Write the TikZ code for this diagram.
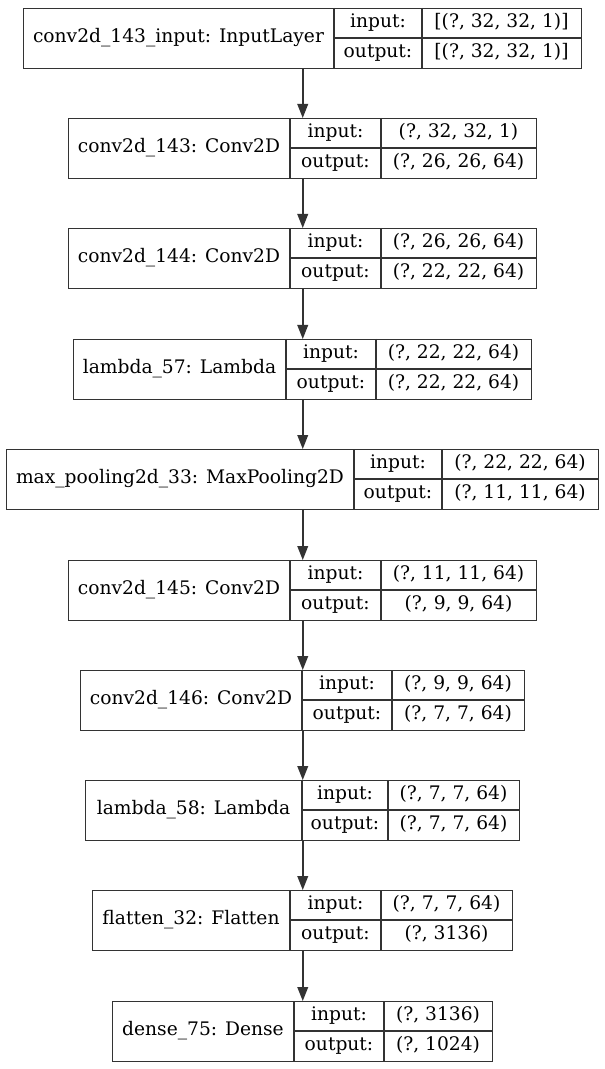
\documentclass[tikz,border=0pt]{standalone}
\usepackage{fontspec}
\setmainfont{DejaVu Serif}
\usetikzlibrary{arrows.meta}
\tikzset{
  frame/.style={draw=black!80, line width=1.1pt, inner sep=0pt, anchor=north west, minimum height=45pt},
  sep/.style={draw=black!80, line width=1.1pt},
  txt/.style={inner sep=0pt, anchor=base, text=black, font=\fontsize{14pt}{16pt}\selectfont},
  flow/.style={draw=black!80, line width=1.2pt, -{Triangle[length=10.5pt,width=8pt]}}
}
\newcommand\layer[9]{%
  \node[frame, minimum width={(#5-#2)*0.75pt}] (#1) at (#2,#6) {};
  \draw[sep] (#3,#6) -- (#3,#6+60);
  \draw[sep] (#4,#6) -- (#4,#6+60);
  \draw[sep] (#3,#6+30) -- (#5,#6+30);
  \node[txt] (#1-t) at ({(#2+#3)/2},#6+34.5) {#7};
  \node[txt] (#1-il) at ({(#3+#4)/2},#6+19.5) {input:};
  \node[txt] (#1-ol) at ({(#3+#4)/2},#6+49.5) {output:};
  \node[txt] (#1-iv) at ({(#4+#5)/2},#6+19.5) {#8};
  \node[txt] (#1-ov) at ({(#4+#5)/2},#6+49.5) {#9};
}
\begin{document}
\begin{tikzpicture}[x=0.75pt,y=-0.75pt]
\useasboundingbox (0,0) rectangle (604,1069);
\layer{l1}{23}{334}{422}{581}{8}{conv2d\_143\_input: InputLayer}{[(?, 32, 32, 1)]}{[(?, 32, 32, 1)]}
\layer{l2}{68}{290}{381}{536}{118}{conv2d\_143: Conv2D}{(?, 32, 32, 1)}{(?, 26, 26, 64)}
\layer{l3}{68}{290}{381}{536}{228}{conv2d\_144: Conv2D}{(?, 26, 26, 64)}{(?, 22, 22, 64)}
\layer{l4}{73}{286}{376}{531}{339}{lambda\_57: Lambda}{(?, 22, 22, 64)}{(?, 22, 22, 64)}
\layer{l5}{6}{354}{442}{598}{449}{max\_pooling2d\_33: MaxPooling2D}{(?, 22, 22, 64)}{(?, 11, 11, 64)}
\layer{l6}{68}{290}{381}{536}{560}{conv2d\_145: Conv2D}{(?, 11, 11, 64)}{(?, 9, 9, 64)}
\layer{l7}{80}{302}{392}{524}{670}{conv2d\_146: Conv2D}{(?, 9, 9, 64)}{(?, 7, 7, 64)}
\layer{l8}{85}{302}{388}{519}{780}{lambda\_58: Lambda}{(?, 7, 7, 64)}{(?, 7, 7, 64)}
\layer{l9}{92}{290}{381}{512}{890}{flatten\_32: Flatten}{(?, 7, 7, 64)}{(?, 3136)}
\layer{l10}{112}{294}{384}{492}{1001}{dense\_75: Dense}{(?, 3136)}{(?, 1024)}
\foreach \a/\b in {l1/l2,l2/l3,l3/l4,l4/l5,l5/l6,l6/l7,l7/l8,l8/l9,l9/l10}
  \draw[flow] (\a.south) -- (\b.north);
\end{tikzpicture}
\end{document}
